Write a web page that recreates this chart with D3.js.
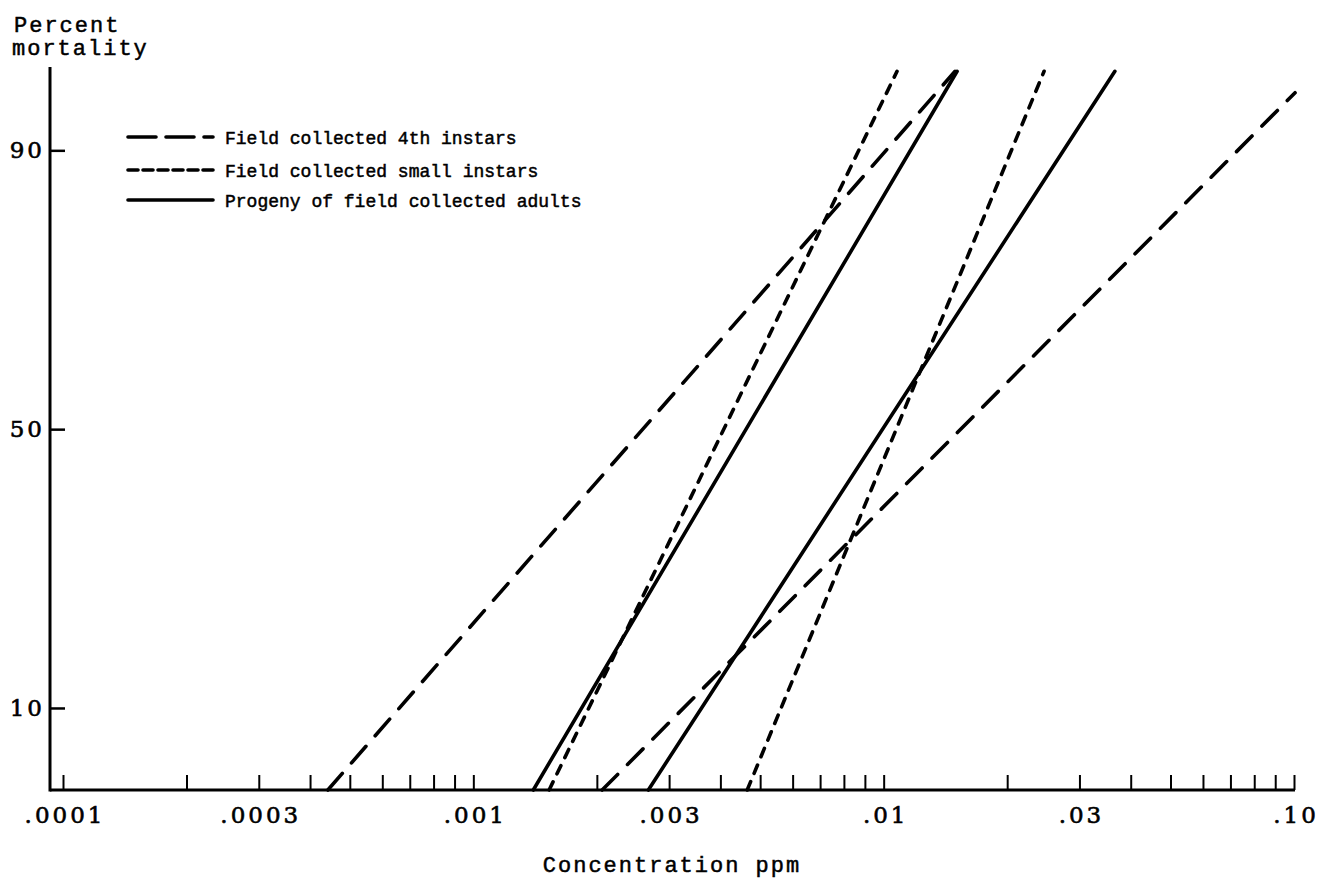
<!DOCTYPE html>
<meta charset="utf-8">
<style>
body { margin: 0; background: #fff; }
svg { display: block; }
.tick text { font-family: "DejaVu Serif", serif; font-size: 23px; letter-spacing: 3px; fill: #000; stroke: #000; stroke-width: 0.6; }
.title { font-family: "Liberation Mono", monospace; font-size: 22px; letter-spacing: 2px; fill: #000; stroke: #000; stroke-width: 0.5; }
.legend text { font-family: "Liberation Mono", monospace; font-size: 18px; fill: #000; stroke: #000; stroke-width: 0.5; }
.dose { fill: none; stroke: #000; stroke-width: 3.6; stroke-linecap: round; }
</style>
<svg width="1319" height="880"></svg>
<script src="https://cdn.jsdelivr.net/npm/d3@7"></script>
<script>

// concentration (ppm) vs percent mortality, two regression lines per group
var seriesNames = ["Field collected 4th instars", "Field collected small instars", "Progeny of field collected adults"];
var fourthInstars = [
  [[0.000442, 4.86], [0.01493, 95]],
  [[0.00206, 4.86], [0.1006, 93.9]]
];
var smallInstars = [
  [[0.00153, 4.86], [0.01078, 95]],
  [[0.00465, 4.86], [0.0246, 95]]
];
var progeny = [
  [[0.00140, 4.86], [0.0151, 95]],
  [[0.00267, 4.86], [0.0366, 95]]
];
var xMajor = [0.0001, 0.0003, 0.001, 0.003, 0.01, 0.03, 0.1];
var xMajorLabels = [".0001", ".0003", ".001", ".003", ".01", ".03", ".10"];
var yTicks = [10, 50, 90];

var svg = d3.select("svg");

// inverse normal cdf (Acklam)
function probit(p) {
  var a = [-39.69683028665376, 220.9460984245205, -275.9285104469687, 138.3577518672690, -30.66479806614716, 2.506628277459239],
      b = [-54.47609879822406, 161.5858368580409, -155.6989798598866, 66.80131188771972, -13.28068155288572],
      c = [-0.007784894002430293, -0.3223964580411365, -2.400758277161838, -2.549732539343734, 4.374664141464968, 2.938163982698783],
      d = [0.007784695709041462, 0.3224671290700398, 2.445134137142996, 3.754408661907416];
  var q, r;
  if (p < 0.02425) {
    q = Math.sqrt(-2 * Math.log(p));
    return (((((c[0]*q+c[1])*q+c[2])*q+c[3])*q+c[4])*q+c[5]) / ((((d[0]*q+d[1])*q+d[2])*q+d[3])*q+1);
  }
  if (p > 1 - 0.02425) {
    q = Math.sqrt(-2 * Math.log(1 - p));
    return -(((((c[0]*q+c[1])*q+c[2])*q+c[3])*q+c[4])*q+c[5]) / ((((d[0]*q+d[1])*q+d[2])*q+d[3])*q+1);
  }
  q = p - 0.5; r = q * q;
  return (((((a[0]*r+a[1])*r+a[2])*r+a[3])*r+a[4])*r+a[5])*q / (((((b[0]*r+b[1])*r+b[2])*r+b[3])*r+b[4])*r+1);
}

var plotLeft = 50, plotBottom = 790, plotTop = 67;

var x = d3.scaleLog().domain([0.0001, 0.1]).range([63, 1294]);

// probability scale for the y axis
var yLin = d3.scaleLinear().domain([probit(0.0486), probit(0.952)]).range([plotBottom, plotTop]);
function y(p) { return yLin(probit(p / 100)); }
y.range = function() { return [plotBottom, plotTop]; };
y.domain = function() { return [4.86, 95.2]; };
y.copy = function() { return y; };

// x axis: every 1..9 multiple gets a tick, majors get labels
var xMinor = [];
[0.0001, 0.001, 0.01].forEach(function(k) {
  d3.range(1, 10).forEach(function(m) { xMinor.push(+(k * m).toPrecision(3)); });
});
xMinor.push(0.1);

var gx = svg.append("g")
    .attr("transform", "translate(0," + plotBottom + ")")
    .call(d3.axisBottom(x)
      .tickValues(xMinor)
      .tickSizeInner(-15)
      .tickSizeOuter(0)
      .tickPadding(17)
      .tickFormat(function(d) {
        var i = xMajor.findIndex(function(v) { return Math.abs(v - d) < d * 1e-6; });
        return i < 0 ? "" : xMajorLabels[i];
      }));
gx.select(".domain").remove();
gx.selectAll(".tick line").attr("stroke", "#000").attr("stroke-width", 2);
gx.selectAll(".tick text").attr("dx", "1.5px");

svg.append("line")
    .attr("x1", plotLeft).attr("x2", x(0.1) + 1)
    .attr("y1", plotBottom).attr("y2", plotBottom)
    .attr("stroke", "#000").attr("stroke-width", 3);

var gy = svg.append("g")
    .attr("transform", "translate(" + plotLeft + ",0)")
    .call(d3.axisLeft(y)
      .tickValues(yTicks)
      .tickSizeInner(-15)
      .tickSizeOuter(0)
      .tickPadding(5)
      .tickFormat(d3.format("d")));
gy.select(".domain").remove();
gy.selectAll(".tick line").attr("stroke", "#000").attr("stroke-width", 2.5);

svg.append("line")
    .attr("x1", plotLeft).attr("x2", plotLeft)
    .attr("y1", plotTop).attr("y2", plotBottom + 1.5)
    .attr("stroke", "#000").attr("stroke-width", 3);

// titles
svg.append("text").attr("class", "title").attr("x", 14).attr("y", 32).text("Percent");
svg.append("text").attr("class", "title").attr("x", 12).attr("y", 55).text("mortality");
svg.append("text").attr("class", "title")
    .attr("x", 672).attr("y", 872)
    .attr("text-anchor", "middle")
    .text("Concentration ppm");

// dose-response lines
var dashes = ["22,14", "9,9", null];
var groups = [fourthInstars, smallInstars, progeny];
var line = d3.line()
    .x(function(d) { return x(d[0]); })
    .y(function(d) { return y(d[1]); });

groups.forEach(function(lines, i) {
  svg.append("g").selectAll("path")
      .data(lines)
    .enter().append("path")
      .attr("class", "dose")
      .attr("stroke-dasharray", dashes[i])
      .attr("d", line);
});

// legend
var legend = svg.append("g").attr("class", "legend");
var legendRows = [137, 170, 200];
seriesNames.forEach(function(name, i) {
  legend.append("line")
      .attr("class", "dose")
      .attr("x1", 128).attr("x2", 213)
      .attr("y1", legendRows[i]).attr("y2", legendRows[i])
      .attr("stroke-dasharray", i === 0 ? "28,10" : i === 1 ? "10,5" : null);
  legend.append("text")
      .attr("x", 225).attr("y", legendRows[i] + 7)
      .text(name);
});

</script>
